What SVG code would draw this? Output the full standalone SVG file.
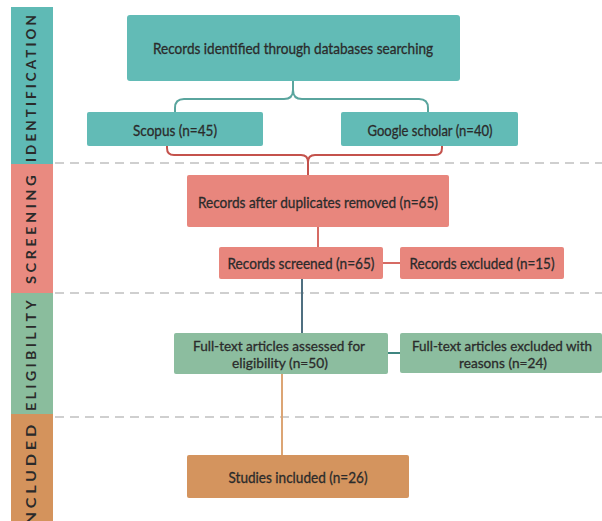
<svg xmlns="http://www.w3.org/2000/svg" width="602" height="521" viewBox="0 0 602 521">
<style>
.t{font-family:Lato,"Open Sans","Liberation Sans",sans-serif;font-size:15px;fill:#2b2b2b;stroke:#2b2b2b;stroke-width:0.3px;text-anchor:middle}
.t2{font-size:14px}
.lab{font-family:Lato,"Open Sans","Liberation Sans",sans-serif;font-size:13px;font-weight:bold;fill:#2a2a2a;text-anchor:middle;letter-spacing:3px}
.dash{stroke:#cfcfcf;stroke-width:2;stroke-dasharray:9 6;fill:none}
.teal{fill:#62bbb6}
.red{fill:#e8867d}
.green{fill:#8cbd9f}
.orange{fill:#d4945e}
</style>
<rect width="602" height="521" fill="#fff"/>
<g id="bands">
<rect x="11" y="7" width="42" height="157" fill="#5fbab5"/>
<rect x="11" y="164" width="42" height="129" fill="#e98a80"/>
<rect x="11" y="293" width="42" height="121" fill="#8abd9d"/>
<rect x="11" y="414" width="42" height="107" fill="#d4935c"/>
<text class="lab" transform="translate(36 87) rotate(-90)" textLength="150" lengthAdjust="spacingAndGlyphs">IDENTIFICATION</text>
<text class="lab" transform="translate(36 228) rotate(-90)" textLength="112" lengthAdjust="spacingAndGlyphs">SCREENING</text>
<text class="lab" transform="translate(36 354) rotate(-90)" textLength="114" lengthAdjust="spacingAndGlyphs">ELIGIBILITY</text>
<text class="lab" transform="translate(36 477) rotate(-90)" textLength="112" lengthAdjust="spacingAndGlyphs">INCLUDED</text>
</g>
<g id="dividers">
<line class="dash" x1="55" y1="163" x2="602" y2="163"/>
<line class="dash" x1="55" y1="293" x2="602" y2="293"/>
<line class="dash" x1="55" y1="417" x2="602" y2="417"/>
</g>
<g id="connectors" fill="none" stroke-width="2">
<path d="M293 81 V90 Q293 99 284 99 H184 Q175 99 175 108 V112 M293 90 Q293 99 302 99 H419 Q428 99 428 108 V112" stroke="#5aa59e"/>
<path d="M167 146 V148 Q167 155 174 155 H301 Q308 155 308 162 V175 M308 162 Q308 155 315 155 H435 Q442 155 442 148 V146" stroke="#c4524c"/>
<line x1="318" y1="227" x2="318" y2="247" stroke="#d66b64"/>
<line x1="383" y1="263" x2="400" y2="263" stroke="#d66b64"/>
<line x1="302" y1="279" x2="302" y2="333" stroke="#4f6f80"/>
<line x1="388" y1="353" x2="400" y2="353" stroke="#3f8580"/>
<line x1="282" y1="374" x2="282" y2="455" stroke="#dca574"/>
</g>
<g id="n-identified">
<rect class="teal" x="127" y="15" width="333" height="66" rx="3"/>
<text class="t" x="293" y="54" textLength="280" lengthAdjust="spacingAndGlyphs">Records identified through databases searching</text>
</g>
<g id="n-scopus">
<rect class="teal" x="87" y="112" width="176" height="34" rx="2"/>
<text class="t" x="175" y="136" textLength="84" lengthAdjust="spacingAndGlyphs">Scopus (n=45)</text>
</g>
<g id="n-google">
<rect class="teal" x="341" y="112" width="177" height="34" rx="2"/>
<text class="t" x="430" y="136" textLength="125" lengthAdjust="spacingAndGlyphs">Google scholar (n=40)</text>
</g>
<g id="n-duplicates">
<rect class="red" x="187" y="175" width="262" height="52" rx="2"/>
<text class="t" x="318" y="208" textLength="240" lengthAdjust="spacingAndGlyphs">Records after duplicates removed (n=65)</text>
</g>
<g id="n-screened">
<rect class="red" x="219" y="247" width="164" height="32" rx="2"/>
<text class="t" x="301" y="269" textLength="147" lengthAdjust="spacingAndGlyphs">Records screened (n=65)</text>
</g>
<g id="n-excluded">
<rect class="red" x="400" y="247" width="164" height="32" rx="2"/>
<text class="t" x="482" y="269" textLength="145" lengthAdjust="spacingAndGlyphs">Records excluded (n=15)</text>
</g>
<g id="n-assessed">
<rect class="green" x="174" y="333" width="214" height="41" rx="2"/>
<text class="t t2" x="279" y="351" textLength="172" lengthAdjust="spacingAndGlyphs">Full-text articles assessed for</text>
<text class="t t2" x="280" y="368" textLength="96" lengthAdjust="spacingAndGlyphs">eligibility (n=50)</text>
</g>
<g id="n-fulltext-excluded">
<rect class="green" x="400" y="333" width="202" height="40" rx="2"/>
<text class="t t2" x="502" y="351" textLength="180" lengthAdjust="spacingAndGlyphs">Full-text articles excluded with</text>
<text class="t t2" x="503" y="368" textLength="88" lengthAdjust="spacingAndGlyphs">reasons (n=24)</text>
</g>
<g id="n-included">
<rect class="orange" x="187" y="455" width="222" height="43" rx="2"/>
<text class="t" x="298" y="483" textLength="139" lengthAdjust="spacingAndGlyphs">Studies included (n=26)</text>
</g>
</svg>
